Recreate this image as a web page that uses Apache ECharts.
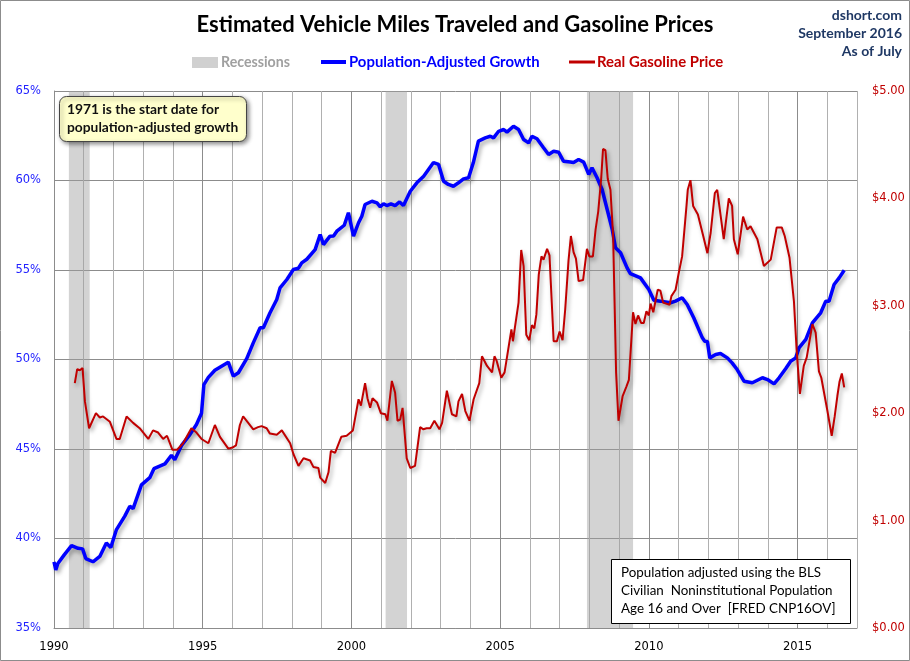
<!DOCTYPE html>
<html>
<head>
<meta charset="utf-8">
<script src="https://cdn.jsdelivr.net/npm/echarts@6/dist/echarts.min.js"></script>
<style>html,body{margin:0;padding:0;background:#fff}#c{width:910px;height:661px}</style>
</head>
<body>
<div id="c"></div>
<script>
// Population-adjusted VMT growth since 1971 (%), [decimal year, value]
var growthPoints = [
[1990.0,38.7],[1990.06,38.25],[1990.13,38.6],[1990.35,39.1],[1990.59,39.6],[1990.81,39.45],[1990.96,39.42],
[1991.07,38.88],[1991.31,38.7],[1991.54,39.0],[1991.76,39.75],[1991.91,39.5],[1992.1,40.5],[1992.38,41.25],
[1992.55,41.8],[1992.66,41.67],[1992.94,43.0],[1993.22,43.4],[1993.36,43.9],[1993.73,44.17],[1993.95,44.65],
[1994.06,44.4],[1994.29,45.2],[1994.57,45.8],[1994.79,46.37],[1994.96,47.0],[1995.04,48.6],[1995.19,49.0],
[1995.41,49.4],[1995.86,49.85],[1996.03,49.07],[1996.2,49.26],[1996.48,50.05],[1996.7,50.93],[1996.93,51.77],
[1997.04,51.77],[1997.26,52.6],[1997.49,53.35],[1997.6,54.0],[1997.83,54.47],[1998.05,55.03],[1998.22,55.1],
[1998.33,55.4],[1998.5,55.6],[1998.78,56.14],[1998.95,56.98],[1999.06,56.42],[1999.28,56.89],[1999.4,56.9],
[1999.51,57.17],[1999.76,57.5],[1999.9,58.2],[1999.95,58.28],[2000.07,56.89],[2000.24,57.64],[2000.35,58.0],
[2000.46,58.66],[2000.69,58.84],[2000.86,58.75],[2000.97,58.53],[2001.08,58.7],[2001.19,58.6],[2001.33,58.7],
[2001.47,58.6],[2001.62,58.8],[2001.75,58.6],[2001.98,59.4],[2002.2,59.87],[2002.43,60.24],[2002.76,61.0],
[2002.93,60.9],[2003.1,59.96],[2003.26,59.78],[2003.43,59.68],[2003.6,59.87],[2003.77,60.09],[2003.94,60.15],
[2004.1,61.0],[2004.27,62.2],[2004.5,62.38],[2004.67,62.47],[2004.78,62.38],[2004.95,62.75],[2005.12,62.85],
[2005.23,62.7],[2005.45,63.03],[2005.62,62.85],[2005.79,62.29],[2005.96,62.1],[2006.07,62.47],[2006.24,62.33],
[2006.46,61.83],[2006.63,61.45],[2006.8,61.63],[2006.97,61.58],[2007.13,61.08],[2007.36,61.03],[2007.47,61.0],
[2007.64,61.17],[2007.81,61.03],[2007.98,60.34],[2008.09,60.71],[2008.26,60.15],[2008.43,59.5],[2008.6,58.38],
[2008.77,57.26],[2008.88,56.24],[2009.05,55.96],[2009.27,55.12],[2009.38,54.8],[2009.72,54.56],[2010.0,53.91],
[2010.17,53.31],[2010.39,53.26],[2010.73,53.17],[2010.9,53.26],[2011.12,53.45],[2011.29,53.07],[2011.51,52.33],
[2011.8,51.21],[2011.88,51.02],[2011.97,51.0],[2012.05,50.09],[2012.25,50.28],[2012.41,50.33],[2012.64,50.09],
[2012.8,49.81],[2012.97,49.44],[2013.2,48.79],[2013.48,48.7],[2013.82,48.98],[2013.99,48.88],[2014.21,48.64],
[2014.38,48.98],[2014.6,49.48],[2014.77,49.9],[2014.94,50.09],[2015.05,50.65],[2015.28,51.12],[2015.5,52.05],
[2015.78,52.61],[2015.95,53.26],[2016.06,53.26],[2016.23,54.19],[2016.4,54.56],[2016.57,54.99]
];
// Real gasoline price ($), [decimal year, value]
var gasPoints = [
[1990.7,2.28],[1990.78,2.41],[1990.87,2.40],[1990.96,2.42],[1991.04,2.11],[1991.18,1.86],[1991.41,2.0],
[1991.54,1.96],[1991.65,1.97],[1991.88,1.92],[1992.1,1.76],[1992.21,1.76],[1992.44,1.97],[1992.66,1.91],
[1992.88,1.86],[1993.17,1.76],[1993.33,1.84],[1993.5,1.82],[1993.67,1.76],[1993.8,1.79],[1993.98,1.66],
[1994.14,1.66],[1994.34,1.72],[1994.62,1.86],[1994.79,1.82],[1994.96,1.76],[1995.19,1.72],[1995.41,1.89],
[1995.58,1.78],[1995.86,1.67],[1996.0,1.68],[1996.12,1.70],[1996.25,1.89],[1996.36,1.97],[1996.7,1.85],
[1996.86,1.87],[1996.98,1.88],[1997.15,1.86],[1997.26,1.81],[1997.49,1.80],[1997.66,1.84],[1997.94,1.72],
[1998.05,1.62],[1998.22,1.51],[1998.39,1.58],[1998.61,1.56],[1998.72,1.50],[1998.89,1.49],[1998.95,1.40],
[1999.12,1.35],[1999.23,1.45],[1999.31,1.65],[1999.45,1.63],[1999.66,1.78],[1999.84,1.79],[2000.05,1.84],
[2000.24,2.13],[2000.32,2.07],[2000.38,2.08],[2000.46,2.28],[2000.54,2.14],[2000.63,2.05],[2000.71,2.14],
[2000.86,2.10],[2000.99,2.0],[2001.14,1.99],[2001.21,1.93],[2001.36,2.30],[2001.47,2.19],[2001.55,1.93],
[2001.64,1.94],[2001.72,2.05],[2001.86,1.58],[2001.98,1.49],[2002.14,1.51],[2002.31,1.87],[2002.42,1.85],
[2002.53,1.86],[2002.65,1.86],[2002.79,1.93],[2002.96,1.85],[2003.05,1.91],[2003.21,2.21],[2003.38,1.99],
[2003.53,1.97],[2003.6,2.11],[2003.72,2.18],[2003.83,2.02],[2003.97,1.93],[2004.11,2.13],[2004.3,2.28],
[2004.39,2.53],[2004.56,2.44],[2004.73,2.38],[2004.81,2.53],[2004.88,2.49],[2005.04,2.33],[2005.15,2.38],
[2005.38,2.78],[2005.43,2.67],[2005.48,2.67],[2005.62,3.03],[2005.71,3.52],[2005.79,3.37],[2005.88,2.73],
[2005.98,2.68],[2006.07,2.82],[2006.15,2.79],[2006.22,2.92],[2006.3,3.29],[2006.39,3.46],[2006.46,3.43],
[2006.58,3.53],[2006.66,3.47],[2006.8,2.67],[2006.91,2.67],[2007.0,2.76],[2007.1,2.68],[2007.19,2.97],
[2007.3,3.42],[2007.38,3.65],[2007.47,3.50],[2007.55,3.44],[2007.64,3.23],[2007.79,3.24],[2007.92,3.53],
[2008.0,3.46],[2008.12,3.46],[2008.21,3.71],[2008.3,3.88],[2008.4,4.19],[2008.46,4.46],[2008.54,4.45],
[2008.62,4.18],[2008.71,4.08],[2008.8,3.65],[2008.9,2.38],[2008.98,1.93],[2009.12,2.16],[2009.25,2.25],
[2009.33,2.31],[2009.47,2.94],[2009.55,2.83],[2009.64,2.91],[2009.74,2.84],[2009.83,2.84],[2009.92,2.95],
[2010.0,2.91],[2010.06,3.02],[2010.15,2.94],[2010.3,3.15],[2010.39,3.14],[2010.48,3.03],[2010.7,3.01],
[2010.76,3.09],[2010.9,3.15],[2011.01,3.31],[2011.12,3.46],[2011.27,3.94],[2011.31,4.08],[2011.4,4.17],
[2011.49,3.93],[2011.65,3.85],[2011.83,3.65],[2011.97,3.49],[2012.08,3.68],[2012.22,4.05],[2012.3,4.08],
[2012.52,3.62],[2012.69,4.0],[2012.8,3.93],[2012.86,3.62],[2012.99,3.48],[2013.17,3.83],[2013.22,3.83],
[2013.31,3.71],[2013.42,3.74],[2013.65,3.62],[2013.87,3.37],[2014.1,3.43],[2014.3,3.73],[2014.47,3.73],
[2014.57,3.65],[2014.73,3.45],[2014.88,3.04],[2014.97,2.59],[2015.08,2.18],[2015.21,2.44],[2015.31,2.52],
[2015.5,2.83],[2015.61,2.75],[2015.72,2.39],[2015.8,2.33],[2016.0,2.03],[2016.15,1.79],[2016.25,1.97],
[2016.34,2.16],[2016.41,2.29],[2016.49,2.37],[2016.57,2.24]
];
// Recession periods [start, end] in decimal years
var recessions = [[1990.5,1991.2],[2001.15,2001.87],[2007.92,2009.47]];

var chart = echarts.init(document.getElementById('c'), null, {renderer:'canvas'});
var gridCol = '#8c8c8c';
var option = {
  backgroundColor:'#fff',
  animation:false,
  grid:{left:54,right:53,top:91,bottom:33},
  xAxis:{type:'value',min:1990,max:2017,interval:1,
    axisLine:{show:true,lineStyle:{color:gridCol}},
    axisTick:{show:false},
    axisLabel:{margin:13,color:'#000',fontFamily:'DejaVu Sans',fontSize:11.5,
      formatter:function(v){return v%5===0?String(v):'';}},
    splitLine:{show:true,lineStyle:{color:['#8c8c8c','#b0b0b0','#b0b0b0','#b0b0b0','#b0b0b0'],width:1}}
  },
  yAxis:[
    {type:'value',min:35,max:65,interval:5,
      axisLine:{show:true,lineStyle:{color:gridCol}},axisTick:{show:false},
      axisLabel:{margin:13,color:'#2222ff',fontFamily:'DejaVu Sans',fontSize:11.5,formatter:function(v){return v+'%';}},
      splitLine:{show:true,lineStyle:{color:'#8c8c8c'}}},
    {type:'value',min:0,max:5,interval:1,position:'right',
      axisLine:{show:false},axisTick:{show:false},
      axisLabel:{margin:15,color:'#c00000',fontFamily:'DejaVu Sans',fontSize:11.5,formatter:function(v){return '$'+v.toFixed(2);}},
      splitLine:{show:false}}
  ],
  series:[
    {name:'Recessions',type:'line',data:[],yAxisIndex:0,
      markArea:{silent:true,itemStyle:{color:'rgba(160,160,160,0.46)'},
        data:recessions.map(function(r){return [{xAxis:r[0]},{xAxis:r[1]}];})}},
    {name:'Population-Adjusted Growth',type:'line',yAxisIndex:0,data:growthPoints,showSymbol:false,
      lineStyle:{color:'#0000ff',width:3.5,shadowColor:'rgba(0,0,0,0.35)',shadowBlur:4,shadowOffsetX:2,shadowOffsetY:3},z:3},
    {name:'Real Gasoline Price',type:'line',yAxisIndex:1,data:gasPoints,showSymbol:false,
      lineStyle:{color:'#c00000',width:2,shadowColor:'rgba(0,0,0,0.35)',shadowBlur:4,shadowOffsetX:2,shadowOffsetY:3},z:4}
  ],
  graphic:[
    {type:'rect',shape:{x:0.5,y:0.5,width:909,height:660},style:{fill:null,stroke:'#8c8c8c',lineWidth:1},silent:true},
    {type:'text',x:455,y:25,style:{text:'Estimated Vehicle Miles Traveled and Gasoline Prices',fontFamily:'Lato',fontWeight:'bold',fontSize:22,fill:'#000',textAlign:'center',textVerticalAlign:'middle'}},
    {type:'text',x:902,y:15,style:{text:'dshort.com',fontFamily:'Lato',fontWeight:'bold',fontSize:14,fill:'#1f3864',textAlign:'right',textVerticalAlign:'middle'}},
    {type:'text',x:902,y:33,style:{text:'September 2016',fontFamily:'Lato',fontWeight:'bold',fontSize:14,fill:'#1f3864',textAlign:'right',textVerticalAlign:'middle'}},
    {type:'text',x:902,y:51,style:{text:'As of July',fontFamily:'Lato',fontWeight:'bold',fontSize:14,fill:'#1f3864',textAlign:'right',textVerticalAlign:'middle'}},
    {type:'rect',shape:{x:192,y:57,width:26,height:11},style:{fill:'#d0d0d0'}},
    {type:'text',x:221,y:62,style:{text:'Recessions',fontFamily:'Lato',fontWeight:'bold',fontSize:14.2,fill:'#a0a0a0',textVerticalAlign:'middle'}},
    {type:'line',shape:{x1:321,y1:62,x2:346,y2:62},style:{stroke:'#0000ff',lineWidth:4}},
    {type:'text',x:349,y:62,style:{text:'Population-Adjusted Growth',fontFamily:'Lato',fontWeight:'bold',fontSize:14.9,fill:'#0000ff',textVerticalAlign:'middle'}},
    {type:'line',shape:{x1:569,y1:62,x2:595,y2:62},style:{stroke:'#c00000',lineWidth:3}},
    {type:'text',x:597,y:62,style:{text:'Real Gasoline Price',fontFamily:'Lato',fontWeight:'bold',fontSize:14.9,fill:'#c00000',textVerticalAlign:'middle'}},
    {type:'rect',z:100,shape:{x:59.5,y:96.5,width:187,height:45,r:7},
      style:{fill:'#ffffcc',stroke:'#444',lineWidth:1,shadowColor:'rgba(0,0,0,0.45)',shadowBlur:4,shadowOffsetX:2,shadowOffsetY:2}},
    {type:'text',z:101,x:67,y:110,style:{text:'1971 is the start date for',fontFamily:'Lato',fontWeight:'bold',fontSize:13.8,fill:'#111',textVerticalAlign:'middle'}},
    {type:'text',z:101,x:67,y:128,style:{text:'population-adjusted growth',fontFamily:'Lato',fontWeight:'bold',fontSize:13.8,fill:'#111',textVerticalAlign:'middle'}},
    {type:'rect',z:100,shape:{x:611.5,y:559.5,width:239,height:64},style:{fill:'#fff',stroke:'#000',lineWidth:1}},
    {type:'text',z:101,x:621,y:573,style:{text:'Population adjusted using the BLS',fontFamily:'Lato',fontSize:13.4,fill:'#000',textVerticalAlign:'middle'}},
    {type:'text',z:101,x:621,y:591,style:{text:'Civilian  Noninstitutional Population',fontFamily:'Lato',fontSize:13.4,fill:'#000',textVerticalAlign:'middle'}},
    {type:'text',z:101,x:621,y:609,style:{text:'Age 16 and Over  [FRED CNP16OV]',fontFamily:'Lato',fontSize:13.4,fill:'#000',textVerticalAlign:'middle'}}
  ]
};
chart.setOption(option);
</script>
</body>
</html>
